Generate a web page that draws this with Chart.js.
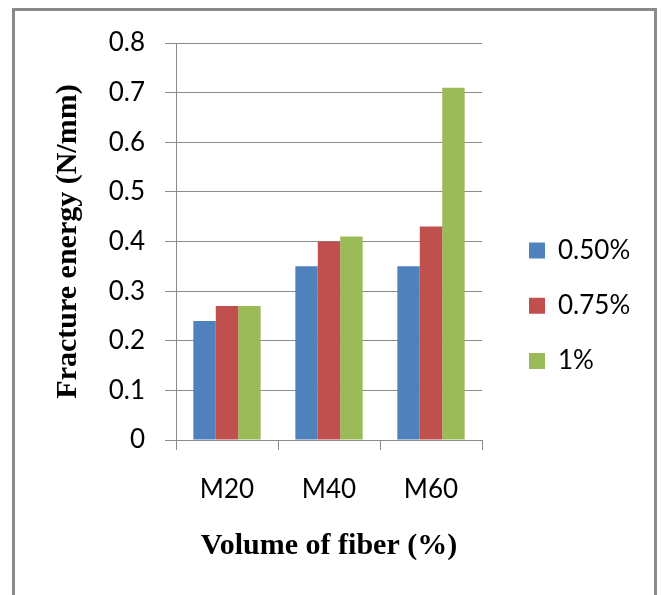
<!DOCTYPE html>
<html>
<head>
<meta charset="utf-8">
<title>Fracture energy</title>
<script src="https://cdn.jsdelivr.net/npm/chart.js@4/dist/chart.umd.min.js"></script>
<style>
  html, body { margin: 0; padding: 0; background: #fff; overflow: hidden; }
  #wrap { position: relative; width: 662px; height: 595px; }
  #frame {
    position: absolute; left: 12px; top: 8px;
    width: 639px; height: 640px;
    border: 3px solid #8a8a8a; border-bottom: none;
    pointer-events: none;
  }
  canvas { position: absolute; left: 0; top: 0; }
</style>
</head>
<body>
<div id="wrap">
  <canvas id="chart" width="662" height="595"></canvas>
  <div id="frame"></div>
</div>
<script>
// Fracture energy by concrete grade and fibre dosage
const categories = ['M20', 'M40', 'M60'];
const seriesNames = ['0.50%', '0.75%', '1%'];
const energy050 = [0.24, 0.35, 0.35];
const energy075 = [0.27, 0.40, 0.43];
const energy100 = [0.27, 0.41, 0.71];
const yTickLabels = ['0', '0.1', '0.2', '0.3', '0.4', '0.5', '0.6', '0.7', '0.8'];
const seriesColors = ['#4F81BD', '#C0504D', '#9BBB59'];

const axisGray = '#8c8c8c';
const tickFont = { family: 'Lato', size: 26 };
const titleFont = { family: 'Liberation Serif', size: 30, weight: 'bold' };

function build() {
  const values = [energy050, energy075, energy100];
  const datasets = seriesNames.map((name, i) => ({
    label: name,
    data: values[i],
    backgroundColor: seriesColors[i],
    borderWidth: 0
  }));

  new Chart(document.getElementById('chart'), {
    type: 'bar',
    data: { labels: categories, datasets },
    options: {
      responsive: false,
      animation: false,
      events: [],
      layout: { padding: { left: 15, top: 43, right: 32.25, bottom: 26.5 } },
      datasets: { bar: { categoryPercentage: 0.66, barPercentage: 1 } },
      plugins: {
        tooltip: { enabled: false },
        legend: {
          position: 'right',
          maxWidth: 130,
          labels: {
            boxWidth: 16,
            boxHeight: 16,
            padding: 29.25,
            color: '#000',
            font: tickFont
          }
        }
      },
      scales: {
        x: {
          grid: {
            display: true,
            drawOnChartArea: false,
            drawTicks: true,
            tickLength: 10,
            color: axisGray,
            offset: true
          },
          border: { display: true, color: axisGray, width: 1 },
          ticks: { color: '#000', font: tickFont, padding: 24 },
          title: {
            display: true,
            text: 'Volume of fiber (%)',
            color: '#000',
            font: titleFont,
            padding: { top: 0, bottom: 4.5 }
          },
          afterFit(scale) { scale.height = 128.5; }
        },
        y: {
          min: 0,
          max: 0.8,
          ticks: {
            stepSize: 0.1,
            color: '#000',
            font: tickFont,
            padding: 20,
            callback: (v, i) => yTickLabels[i]
          },
          grid: { color: axisGray, tickLength: 11, drawTicks: true },
          border: { display: true, color: axisGray, width: 1 },
          title: {
            display: true,
            text: 'Fracture energy (N/mm)',
            color: '#000',
            font: titleFont,
            padding: { top: 35, bottom: 0 }
          },
          afterFit(scale) { scale.width = 161; }
        },
        // empty spacer between plot area and legend
        gap: {
          position: 'right',
          display: true,
          grid: { display: false },
          border: { display: false },
          ticks: { display: false },
          afterFit(scale) { scale.width = 17.75; }
        }
      }
    }
  });
}

Promise.all([
  document.fonts.load('26px Lato'),
  document.fonts.load('bold 30px "Liberation Serif"')
]).then(build, build);
</script>
</body>
</html>
